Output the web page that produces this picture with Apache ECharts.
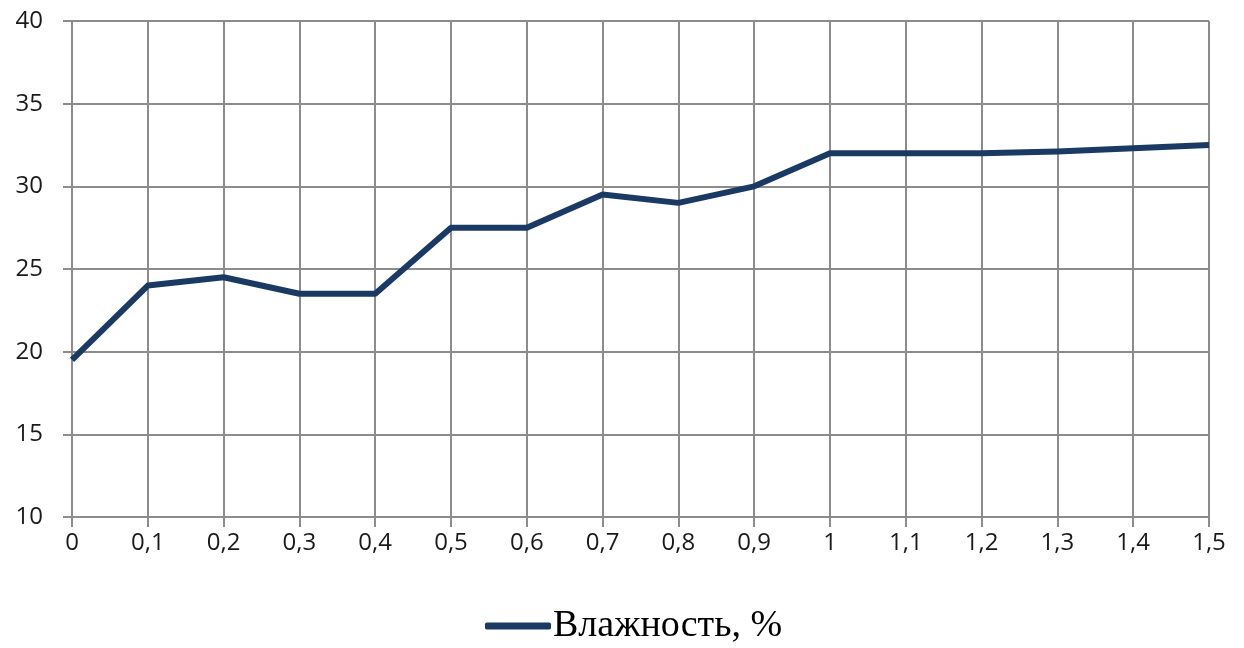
<!DOCTYPE html>
<html>
<head>
<meta charset="utf-8">
<script src="https://cdn.jsdelivr.net/npm/echarts@6/dist/echarts.min.js"></script>
<style>
  html, body { margin: 0; padding: 0; background: #ffffff; }
  #chart { width: 1244px; height: 648px; }
</style>
</head>
<body>
<div id="chart"></div>
<script>
// Moisture content categories (x axis)
const categories = ['0', '0,1', '0,2', '0,3', '0,4', '0,5', '0,6', '0,7', '0,8', '0,9', '1', '1,1', '1,2', '1,3', '1,4', '1,5'];
// Measured values
const moisture = [19.5, 24, 24.5, 23.5, 23.5, 27.5, 27.5, 29.5, 29, 30, 32, 32, 32, 32.1, 32.3, 32.5];
const seriesName = 'Влажность, %';

const gridColor = '#8c8c8c';
const lineColor = '#1b3a63';
const axisFont = 'Open Sans';

const chart = echarts.init(document.getElementById('chart'), null, { renderer: 'canvas' });
chart.setOption({
  animation: false,
  backgroundColor: '#ffffff',
  grid: { left: 72, right: 35, top: 21, bottom: 131, containLabel: false },
  legend: {
    bottom: -2,
    left: 480,
    itemWidth: 66,
    itemHeight: 7,
    itemGap: 4,
    textStyle: { fontFamily: 'Liberation Serif', fontSize: 38, color: '#000000', padding: [0, 0, 0, -3] },
    data: [{ name: seriesName, icon: 'roundRect' }]
  },
  xAxis: {
    type: 'category',
    data: categories,
    boundaryGap: false,
    axisLine: { show: true, lineStyle: { color: gridColor, width: 2 } },
    axisTick: { show: true, alignWithLabel: true, length: 10, lineStyle: { color: gridColor, width: 2 } },
    axisLabel: { margin: 14, fontFamily: axisFont, fontSize: 24, color: '#1a1a1a' },
    splitLine: { show: true, lineStyle: { color: gridColor, width: 2 } }
  },
  yAxis: {
    type: 'value',
    min: 10,
    max: 40,
    interval: 5,
    axisLine: { show: true, lineStyle: { color: gridColor, width: 2 } },
    axisTick: { show: true, length: 9, lineStyle: { color: gridColor, width: 2 } },
    axisLabel: { margin: 29, fontFamily: axisFont, fontSize: 24, color: '#1a1a1a' },
    splitLine: { show: true, lineStyle: { color: gridColor, width: 2 } }
  },
  series: [{
    name: seriesName,
    type: 'line',
    data: moisture,
    symbol: 'none',
    lineStyle: { color: lineColor, width: 6, join: 'round' },
    itemStyle: { color: lineColor }
  }]
});
</script>
</body>
</html>
